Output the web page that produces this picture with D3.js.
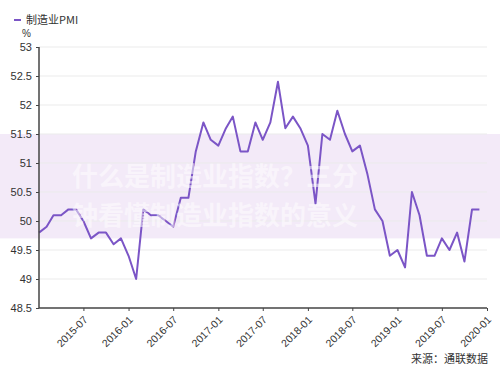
<!DOCTYPE html>
<html><head><meta charset="utf-8">
<script src="https://cdn.jsdelivr.net/npm/d3@7"></script>
<style>
html,body{margin:0;padding:0;background:#fff;}
text{font-family:"Liberation Sans","Noto Sans CJK SC",sans-serif;}
</style></head>
<body>
<svg id="c" width="500" height="375"></svg>
<script>
const seriesName = "制造业PMI";
const unitLabel = "%";
const sourceLabel = "来源：通联数据";
const watermark = ["什么是制造业指数？三分", "钟看懂制造业指数的意义"];
const startMonth = "2015-01";
const pmiValues = [
  49.8, 49.9, 50.1, 50.1, 50.2, 50.2, 50.0, 49.7, 49.8, 49.8, 49.6, 49.7,
  49.4, 49.0, 50.2, 50.1, 50.1, 50.0, 49.9, 50.4, 50.4, 51.2, 51.7, 51.4,
  51.3, 51.6, 51.8, 51.2, 51.2, 51.7, 51.4, 51.7, 52.4, 51.6, 51.8, 51.6,
  51.3, 50.3, 51.5, 51.4, 51.9, 51.5, 51.2, 51.3, 50.8, 50.2, 50.0, 49.4,
  49.5, 49.2, 50.5, 50.1, 49.4, 49.4, 49.7, 49.5, 49.8, 49.3, 50.2, 50.2
];
const yTicks = [48.5, 49, 49.5, 50, 50.5, 51, 51.5, 52, 52.5, 53];
const xTickLabels = ["2015-07","2016-01","2016-07","2017-01","2017-07","2018-01","2018-07","2019-01","2019-07","2020-01"];

const parse = d3.timeParse("%Y-%m");
const fmt = d3.timeFormat("%Y-%m");
const t0 = parse(startMonth);
const data = pmiValues.map((v, i) => ({ date: d3.timeMonth.offset(t0, i), value: v }));

const svg = d3.select("#c");
const x = d3.scaleTime().domain([t0, parse("2020-01")]).range([39, 487]);
const y = d3.scaleLinear().domain([48.5, 53]).range([308, 47]);

// watermark band
svg.append("rect").attr("x", 0).attr("y", y(51.5)).attr("width", 500)
  .attr("height", y(49.7) - y(51.5)).attr("fill", "#f3eaf8");

// grid
svg.append("g").selectAll("line").data(yTicks.slice(1)).join("line")
  .attr("x1", 39).attr("x2", 487).attr("y1", d => y(d)).attr("y2", d => y(d))
  .attr("stroke", "#ebebeb").attr("stroke-width", 1);

// line
svg.append("path").datum(data)
  .attr("fill", "none").attr("stroke", "#7b55c6").attr("stroke-width", 2)
  .attr("stroke-linejoin", "round")
  .attr("d", d3.line().x(d => x(d.date)).y(d => y(d.value)));

// y axis
const ya = svg.append("g").attr("transform", "translate(39,0)")
  .call(d3.axisLeft(y).tickValues(yTicks).tickSize(3).tickPadding(4).tickFormat(d3.format("")));
ya.select(".domain").attr("stroke", "#444").attr("stroke-width", 1.5).attr("d", `M0,${y(53)}V${y(48.5)}`);
ya.selectAll(".tick line").attr("stroke", "#444");
ya.selectAll("text").attr("font-size", 11).attr("fill", "#333");

// x axis
const xa = svg.append("g").attr("transform", `translate(0,${y(48.5)})`)
  .call(d3.axisBottom(x).tickValues(xTickLabels.map(parse)).tickSize(3).tickFormat(fmt));
xa.select(".domain").attr("stroke", "#444").attr("stroke-width", 1.5).attr("d", `M39,0H487`);
xa.selectAll(".tick line").attr("stroke", "#444");
xa.selectAll("text").attr("font-size", 10.5).attr("fill", "#333")
  .attr("text-anchor", "end").attr("dy", "0.3em")
  .attr("transform", "translate(-2,6) rotate(-45)");

// watermark text
const wm = svg.append("g").attr("fill", "#ffffff").attr("opacity", 0.5)
  .attr("font-weight", "bold").attr("font-size", 26);
wm.selectAll("text").data(watermark).join("text")
  .attr("x", 72).attr("y", (d, i) => 186 + i * 39)
  .style("font-family", "'Noto Sans CJK SC',sans-serif")
  .text(d => d);

// legend
svg.append("line").attr("x1", 14).attr("x2", 21).attr("y1", 20).attr("y2", 20)
  .attr("stroke", "#7b55c6").attr("stroke-width", 2);
svg.append("text").attr("x", 26).attr("y", 24).attr("font-size", 11).attr("fill", "#333")
  .style("font-family", "'Noto Sans CJK SC',sans-serif").text(seriesName);
svg.append("text").attr("x", 22).attr("y", 37).attr("font-size", 10).attr("fill", "#333").text(unitLabel);

// source
svg.append("text").attr("x", 488).attr("y", 363).attr("text-anchor", "end")
  .attr("font-size", 11).attr("fill", "#333")
  .style("font-family", "'Noto Sans CJK SC',sans-serif").text(sourceLabel);
</script>
</body></html>
